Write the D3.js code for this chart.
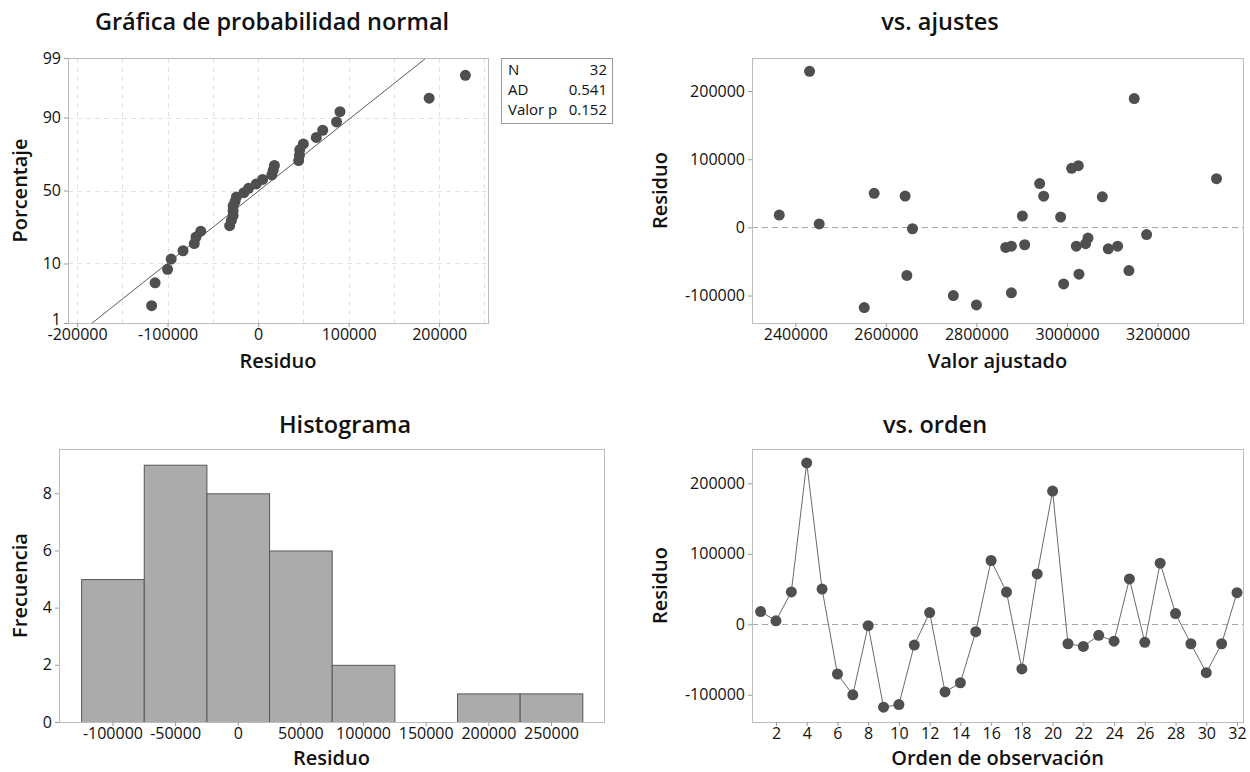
<!DOCTYPE html>
<html><head><meta charset="utf-8">
<script src="https://cdn.jsdelivr.net/npm/d3@7"></script>
<style>
body{margin:0;background:#fff}
svg{display:block}
text{font-family:"Open Sans","Noto Sans",sans-serif;fill:#111}
</style>
</head><body>
<svg id="c" width="1250" height="772"></svg>
<script>
// ---------------- data ----------------
const observations = d3.range(1, 33);
const residuals = [18000, 5000, 46000, 229000, 50000, -70500, -100000, -2000,
  -117600, -113800, -29500, 16700, -96000, -82900, -10500, 90500,
  45700, -63300, 71400, 189000, -27600, -31400, -15700, -24000,
  64300, -25500, 86700, 15200, -27600, -68600, -27600, 44800];
const fitted = [2364700, 2452900, 2642600, 2431600, 2574200, 2646400, 2749000, 2658800,
  2552300, 2800000, 2864600, 2901400, 2877200, 2992500, 3175700, 3024900,
  2948400, 3136700, 3330000, 3148400, 2877200, 3091100, 3046300, 3041000,
  2939600, 2906500, 3010200, 2985900, 3020500, 3026400, 3111700, 3077900];
const statLabels = ["N", "AD", "Valor p"];
const statValues = ["32", "0.541", "0.152"];
const titles = ["Gráfica de probabilidad normal", "vs. ajustes", "Histograma", "vs. orden"];
const probTicks = [1, 10, 50, 90, 99];
const probResidTicks = [-200000, -100000, 0, 100000, 200000];
const probGridX = d3.range(-200000, 250001, 50000);
const residTicks = [-100000, 0, 100000, 200000];
const fittedTicks = [2400000, 2600000, 2800000, 3000000, 3200000];
const histTicksX = [-100000, -50000, 0, 50000, 100000, 150000, 200000, 250000];
const histTicksY = [0, 2, 4, 6, 8];
const histThresholds = d3.range(-125000, 275001, 50000);
const orderTicks = d3.range(2, 33, 2);

// inverse standard normal CDF (Acklam)
function qnorm(p){
  const a=[-3.969683028665376e+01,2.209460984245205e+02,-2.759285104469687e+02,1.383577518672690e+02,-3.066479806614716e+01,2.506628277459239e+00];
  const b=[-5.447609879822406e+01,1.615858368580409e+02,-1.556989798598866e+02,6.680131188771972e+01,-1.328068155288572e+01];
  const c=[-7.784894002430293e-03,-3.223964580411365e-01,-2.400758277161838e+00,-2.549732539343734e+00,4.374664141464968e+00,2.938163982698783e+00];
  const d=[7.784695709041462e-03,3.224671290700398e-01,2.445134137142996e+00,3.754408661907416e+00];
  const pl=0.02425, ph=1-pl; let q, r;
  if(p<pl){q=Math.sqrt(-2*Math.log(p));return (((((c[0]*q+c[1])*q+c[2])*q+c[3])*q+c[4])*q+c[5])/((((d[0]*q+d[1])*q+d[2])*q+d[3])*q+1);}
  if(p>ph){q=Math.sqrt(-2*Math.log(1-p));return -(((((c[0]*q+c[1])*q+c[2])*q+c[3])*q+c[4])*q+c[5])/((((d[0]*q+d[1])*q+d[2])*q+d[3])*q+1);}
  q=p-0.5; r=q*q;
  return (((((a[0]*r+a[1])*r+a[2])*r+a[3])*r+a[4])*r+a[5])*q/(((((b[0]*r+b[1])*r+b[2])*r+b[3])*r+b[4])*r+1);
}

// ---------------- style ----------------
const svg = d3.select("#c");
const BORDER = "#bcbcbc", TICK = "#9a9a9a", DOT = "#4f4f4f";
const fmt = d => String(d);
const TICK_FS = "16px", LABEL_FS = "20px", TITLE_FS = "23.5px";

function styleAxis(g){
  g.select(".domain").remove();
  g.selectAll(".tick line").attr("stroke", TICK);
  g.selectAll(".tick text").style("font-size", TICK_FS).style("font-family", '"Open Sans",sans-serif').attr("fill", "#111");
}
function border(x0, y0, x1, y1){
  svg.append("rect").attr("x", x0 + 0.5).attr("y", y0 + 0.5)
    .attr("width", x1 - x0).attr("height", y1 - y0)
    .attr("fill", "none").attr("stroke", BORDER).attr("stroke-width", 1);
}
function title(txt, x, y){
  svg.append("text").attr("x", x).attr("y", y).attr("text-anchor", "middle")
    .style("font-size", TITLE_FS).style("font-weight", 600).text(txt);
}
function xlabel(txt, x, y){
  svg.append("text").attr("x", x).attr("y", y).attr("text-anchor", "middle")
    .style("font-size", LABEL_FS).style("font-weight", 600).text(txt);
}
function ylabel(txt, x, y){
  svg.append("text").attr("transform", `translate(${x},${y}) rotate(-90)`).attr("text-anchor", "middle")
    .style("font-size", LABEL_FS).style("font-weight", 600).text(txt);
}

// ---------------- panel 1: normal probability ----------------
{
  const L = 68, R = 488, T = 58, B = 323;
  const x = d3.scaleLinear().domain([-210000, 254000]).range([L, R]);
  const y = d3.scaleLinear().domain([qnorm(0.01), qnorm(0.99)]).range([B, T]);
  const n = residuals.length;
  const sorted = residuals.slice().sort(d3.ascending);
  const mu = d3.mean(residuals), sd = d3.deviation(residuals);

  // grid
  svg.append("g").selectAll("line").data(probGridX).join("line")
    .attr("x1", d => Math.round(x(d)) + 0.5).attr("x2", d => Math.round(x(d)) + 0.5)
    .attr("y1", T).attr("y2", B)
    .attr("stroke", "#e2e2e2").attr("stroke-dasharray", "5,4");
  svg.append("g").selectAll("line").data(probTicks.slice(1, -1)).join("line")
    .attr("x1", L).attr("x2", R)
    .attr("y1", d => Math.round(y(qnorm(d / 100))) + 0.5).attr("y2", d => Math.round(y(qnorm(d / 100))) + 0.5)
    .attr("stroke", "#e2e2e2").attr("stroke-dasharray", "5,4");

  // fitted line
  svg.append("clipPath").attr("id", "clipP").append("rect")
    .attr("x", L).attr("y", T).attr("width", R - L).attr("height", B - T);
  svg.append("line")
    .attr("clip-path", "url(#clipP)")
    .attr("x1", x(mu + sd * -3)).attr("y1", y(-3))
    .attr("x2", x(mu + sd * 3)).attr("y2", y(3))
    .attr("stroke", "#5a5a5a").attr("stroke-width", 1);

  // points
  svg.append("g").selectAll("circle").data(sorted).join("circle")
    .attr("cx", d => x(d))
    .attr("cy", (d, i) => y(qnorm((i + 1 - 0.3) / (n + 0.4))))
    .attr("r", 5.5).attr("fill", DOT);

  border(L, T, R, B);
  svg.append("g").attr("transform", `translate(0,${B})`)
    .call(d3.axisBottom(x).tickValues(probResidTicks).tickSize(4).tickPadding(2).tickFormat(fmt))
    .call(styleAxis);
  const ya = d3.scaleLinear().domain(y.domain()).range(y.range());
  const yAxisG = svg.append("g").attr("transform", `translate(${L},0)`)
    .call(d3.axisLeft(ya).tickValues(probTicks.map(p => qnorm(p / 100))).tickSize(4).tickPadding(3)
      .tickFormat((d, i) => String(probTicks[i])))
    .call(styleAxis);
  // lowest label sits just above the x-axis labels, as in the original
  yAxisG.selectAll(".tick text").filter((d, i) => i === 0).attr("dy", "0.1em");

  title(titles[0], 272, 30);
  xlabel("Residuo", L + (R - L) / 2, 368);
  ylabel("Porcentaje", 27, (T + B) / 2);

  // stats box
  const bx = 501, by = 58, bw = 111, bh = 65;
  svg.append("rect").attr("x", bx + 0.5).attr("y", by + 0.5).attr("width", bw).attr("height", bh)
    .attr("fill", "#fff").attr("stroke", "#9a9a9a");
  statLabels.forEach((s, i) => {
    svg.append("text").attr("x", bx + 7).attr("y", by + 17 + i * 20)
      .style("font-size", "15px").text(s);
    svg.append("text").attr("x", bx + bw - 5).attr("y", by + 17 + i * 20).attr("text-anchor", "end")
      .style("font-size", "15px").text(statValues[i]);
  });
}

// ---------------- panel 2: vs fitted ----------------
{
  const L = 752, R = 1243, T = 58, B = 323;
  const x = d3.scaleLinear().domain([2304500, 3388500]).range([L, R]);
  const y = d3.scaleLinear().domain([-140300, 248500]).range([B, T]);
  svg.append("line").attr("x1", L).attr("x2", R)
    .attr("y1", Math.round(y(0)) + 0.5).attr("y2", Math.round(y(0)) + 0.5)
    .attr("stroke", "#a8a8a8").attr("stroke-dasharray", "6,4");
  svg.append("g").selectAll("circle").data(observations).join("circle")
    .attr("cx", i => x(fitted[i - 1])).attr("cy", i => y(residuals[i - 1]))
    .attr("r", 5.5).attr("fill", DOT);
  border(L, T, R, B);
  svg.append("g").attr("transform", `translate(0,${B})`)
    .call(d3.axisBottom(x).tickValues(fittedTicks).tickSize(4).tickPadding(2).tickFormat(fmt))
    .call(styleAxis);
  svg.append("g").attr("transform", `translate(${L},0)`)
    .call(d3.axisLeft(y).tickValues(residTicks).tickSize(4).tickPadding(3).tickFormat(fmt))
    .call(styleAxis);
  title(titles[1], 940, 30);
  xlabel("Valor ajustado", L + (R - L) / 2, 368);
  ylabel("Residuo", 667, (T + B) / 2);
}

// ---------------- panel 3: histogram ----------------
{
  const L = 59, R = 604, T = 449, B = 722;
  const x = d3.scaleLinear().domain([-142650, 292300]).range([L, R]);
  const y = d3.scaleLinear().domain([0, 9.55]).range([B, T]);
  const bins = d3.bin().domain([histThresholds[0], histThresholds[histThresholds.length - 1]])
    .thresholds(histThresholds)(residuals);
  svg.append("g").selectAll("rect").data(bins).join("rect")
    .attr("x", d => x(d.x0) + 0.5).attr("y", d => y(d.length) + 0.5)
    .attr("width", d => x(d.x1) - x(d.x0)).attr("height", d => B - y(d.length))
    .attr("fill", "#ababab").attr("stroke", "#575757").attr("stroke-width", 1);
  border(L, T, R, B);
  svg.append("g").attr("transform", `translate(0,${B})`)
    .call(d3.axisBottom(x).tickValues(histTicksX).tickSize(4).tickPadding(2).tickFormat(fmt))
    .call(styleAxis);
  svg.append("g").attr("transform", `translate(${L},0)`)
    .call(d3.axisLeft(y).tickValues(histTicksY).tickSize(4).tickPadding(3).tickFormat(fmt))
    .call(styleAxis);
  title(titles[2], 345, 433);
  xlabel("Residuo", L + (R - L) / 2, 765);
  ylabel("Frecuencia", 27, (T + B) / 2);
}

// ---------------- panel 4: vs order ----------------
{
  const L = 752, R = 1243, T = 449, B = 722;
  const x = d3.scaleLinear().domain([0.44, 32.39]).range([L, R]);
  const y = d3.scaleLinear().domain([-138600, 248700]).range([B, T]);
  svg.append("line").attr("x1", L).attr("x2", R)
    .attr("y1", Math.round(y(0)) + 0.5).attr("y2", Math.round(y(0)) + 0.5)
    .attr("stroke", "#a8a8a8").attr("stroke-dasharray", "6,4");
  svg.append("path").datum(observations)
    .attr("d", d3.line().x(i => x(i)).y(i => y(residuals[i - 1])))
    .attr("fill", "none").attr("stroke", "#6a6a6a").attr("stroke-width", 1);
  svg.append("g").selectAll("circle").data(observations).join("circle")
    .attr("cx", i => x(i)).attr("cy", i => y(residuals[i - 1]))
    .attr("r", 5.5).attr("fill", DOT);
  border(L, T, R, B);
  svg.append("g").attr("transform", `translate(0,${B})`)
    .call(d3.axisBottom(x).tickValues(orderTicks).tickSize(4).tickPadding(2).tickFormat(fmt))
    .call(styleAxis);
  svg.append("g").attr("transform", `translate(${L},0)`)
    .call(d3.axisLeft(y).tickValues(residTicks).tickSize(4).tickPadding(3).tickFormat(fmt))
    .call(styleAxis);
  title(titles[3], 935, 433);
  xlabel("Orden de observación", L + (R - L) / 2, 765);
  ylabel("Residuo", 667, (T + B) / 2);
}
</script>
</body></html>
